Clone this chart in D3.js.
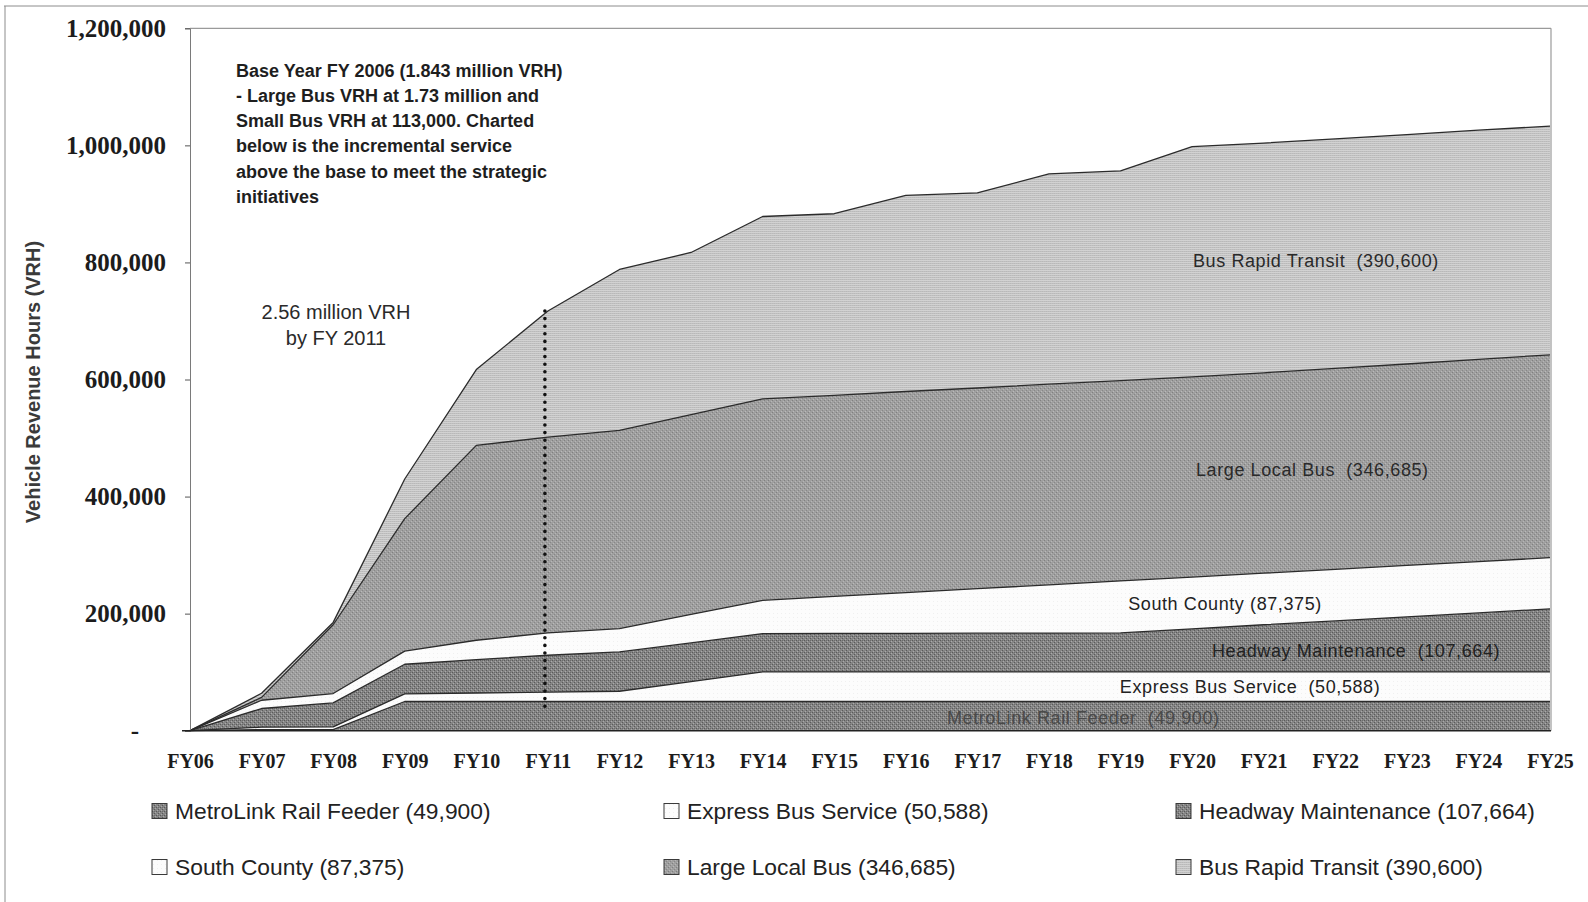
<!DOCTYPE html>
<html>
<head>
<meta charset="utf-8">
<script src="https://cdn.jsdelivr.net/npm/d3@7"></script>
<style>
  html, body { margin: 0; padding: 0; background: #fff; }
  svg { display: block; }
  text { white-space: pre; }
</style>
</head>
<body>
<svg id="chart" width="1588" height="902"></svg>
<script>
// Fiscal years on the category axis
const years = ["FY06","FY07","FY08","FY09","FY10","FY11","FY12","FY13","FY14","FY15",
               "FY16","FY17","FY18","FY19","FY20","FY21","FY22","FY23","FY24","FY25"];

// Incremental vehicle revenue hours by service type (stacked bottom to top)
const metroLinkRailFeeder = [0, 2000, 2000, 49900, 49900, 49900, 49900, 49900, 49900, 49900,
                             49900, 49900, 49900, 49900, 49900, 49900, 49900, 49900, 49900, 49900];
const expressBusService   = [0, 4000, 4500, 13000, 14500, 16000, 17500, 34000, 50588, 50588,
                             50588, 50588, 50588, 50588, 50588, 50588, 50588, 50588, 50588, 50588];
const headwayMaintenance  = [0, 31900, 41000, 50600, 57100, 63000, 67100, 66100, 65500, 65700,
                             65900, 66100, 66300, 66500, 73500, 80500, 87000, 94000, 100800, 107664];
const southCounty         = [0, 14100, 16000, 22500, 33000, 38100, 40000, 48600, 56800, 63200,
                             69600, 76000, 82400, 88900, 88500, 88100, 88200, 87800, 87600, 87375];
const largeLocalBus       = [0, 5000, 117500, 226300, 332900, 334600, 338500, 341400, 344200, 343600,
                             343500, 342900, 342800, 342100, 342000, 342400, 343300, 344200, 345600, 346685];
const busRapidTransit     = [0, 7000, 4000, 67700, 129600, 215400, 275000, 277000, 311500, 310200,
                             335000, 333500, 359200, 358500, 393300, 392500, 392000, 392000, 391500, 390600];

const seriesNames = ["MetroLink Rail Feeder", "Express Bus Service", "Headway Maintenance",
                     "South County", "Large Local Bus", "Bus Rapid Transit"];
const seriesValues = [metroLinkRailFeeder, expressBusService, headwayMaintenance,
                      southCounty, largeLocalBus, busRapidTransit];

// Value axis ticks
const yTicks = [0, 200000, 400000, 600000, 800000, 1000000, 1200000];

// Annotation text
const baseYearNote = ["Base Year FY 2006 (1.843 million VRH)",
                      "- Large Bus VRH at 1.73 million and",
                      "Small Bus VRH at 113,000. Charted",
                      "below is the incremental service",
                      "above the base to meet the strategic",
                      "initiatives"];
const milestoneNote = ["2.56 million VRH", "by FY 2011"];
const milestoneYear = "FY11";
const milestoneTotal = 717000;
const milestoneFloor = 30000;

// ---------------------------------------------------------------------------
const svg = d3.select("#chart");
const W = 1588, H = 902;
svg.append("rect").attr("width", W).attr("height", H).attr("fill", "#fff");

const defs = svg.append("defs");

// Halftone-like fills
function pattern(id, w, h, base, dots) {
  const p = defs.append("pattern").attr("id", id)
    .attr("width", w).attr("height", h).attr("patternUnits", "userSpaceOnUse");
  p.append("rect").attr("width", w).attr("height", h).attr("fill", base);
  dots.forEach(([x, y, c]) => p.append("rect").attr("x", x).attr("y", y)
    .attr("width", 1).attr("height", 1).attr("fill", c));
}
pattern("fillDark", 4, 4, "#858585", [[0,0,"#5a5a5a"],[2,2,"#5a5a5a"],[1,3,"#aaaaaa"],[3,1,"#aaaaaa"],[2,0,"#6c6c6c"]]);
pattern("fillWhite", 4, 4, "#fcfcfc", [[1,1,"#f0f0f0"]]);
pattern("fillMid", 4, 4, "#9f9f9f", [[0,0,"#808080"],[2,2,"#878787"],[1,3,"#bababa"],[3,1,"#b6b6b6"]]);
pattern("fillLight", 4, 2, "#d2d2d2", [[0,1,"#bababa"],[1,1,"#bfbfbf"],[2,1,"#b8b8b8"],[3,1,"#c1c1c1"]]);

const fills = ["url(#fillDark)", "url(#fillWhite)", "url(#fillDark)",
               "url(#fillWhite)", "url(#fillMid)", "url(#fillLight)"];

// Scales
const x = d3.scalePoint().domain(years).range([190, 1550]);
const y = d3.scaleLinear().domain([0, 1200000]).range([730.7, 28.3]);

// Stack the series
const rows = years.map((yr, i) => {
  const r = { year: yr };
  seriesNames.forEach((n, k) => { r[n] = seriesValues[k][i]; });
  return r;
});
const stacked = d3.stack().keys(seriesNames)(rows);

// Outer frame lines
svg.append("line").attr("x1", 4).attr("x2", W).attr("y1", 6).attr("y2", 6)
  .attr("stroke", "#8c8c8c").attr("stroke-width", 1);
svg.append("line").attr("x1", 5).attr("x2", 5).attr("y1", 6).attr("y2", H)
  .attr("stroke", "#8c8c8c").attr("stroke-width", 1);

// Plot-area border (top and right)
const plot = svg.append("g");
plot.append("line").attr("x1", x("FY06")).attr("x2", x("FY25") + 1)
  .attr("y1", y(1200000)).attr("y2", y(1200000))
  .attr("stroke", "#9a9a9a").attr("stroke-width", 1.2);
plot.append("line").attr("x1", x("FY25") + 1).attr("x2", x("FY25") + 1)
  .attr("y1", y(1200000)).attr("y2", y(0))
  .attr("stroke", "#9a9a9a").attr("stroke-width", 1.2);

// Areas
const area = d3.area()
  .x(d => x(d.data.year))
  .y0(d => y(d[0]))
  .y1(d => y(d[1]));
const topLine = d3.line()
  .x(d => x(d.data.year))
  .y(d => y(d[1]));

plot.selectAll("path.layer").data(stacked).join("path")
  .attr("class", "layer")
  .attr("d", area)
  .attr("fill", (d, i) => fills[i]);

plot.selectAll("path.edge").data(stacked).join("path")
  .attr("class", "edge")
  .attr("d", topLine)
  .attr("fill", "none")
  .attr("stroke", "#2b2b2b")
  .attr("stroke-width", 1.3)
  .attr("stroke-linejoin", "round");

// Series labels inside the bands: [category position, value level]
const fmt = d3.format(",");
const inLabels = [
  { k: 0, at: [12.48, 23000],  text: "MetroLink Rail Feeder  (" , fill: "#4a4a4a" },
  { k: 1, at: [14.81, 74800],  text: "Express Bus Service  (",    fill: "#222" },
  { k: 2, at: [16.29, 137400], text: "Headway Maintenance  (",    fill: "#222" },
  { k: 3, at: [14.46, 216800], text: "South County (",            fill: "#222" },
  { k: 4, at: [15.68, 446500], text: "Large Local Bus  (",        fill: "#2a2a2a" },
  { k: 5, at: [15.73, 803000], text: "Bus Rapid Transit  (",      fill: "#2a2a2a" }
];
const step = x.step();
plot.selectAll("text.inlabel").data(inLabels).join("text")
  .attr("class", "inlabel")
  .attr("x", d => x("FY06") + d.at[0] * step)
  .attr("y", d => y(d.at[1]))
  .attr("dy", "0.35em")
  .attr("text-anchor", "middle")
  .attr("font-family", "'Liberation Sans', Arial, sans-serif")
  .attr("font-size", 18)
  .attr("letter-spacing", 0.6)
  .attr("fill", d => d.fill)
  .text(d => d.text + fmt(seriesValues[d.k][years.length - 1]) + ")");

// Dotted marker at FY 2011
plot.append("line")
  .attr("x1", x(milestoneYear) - 3).attr("x2", x(milestoneYear) - 3)
  .attr("y1", y(milestoneTotal)).attr("y2", y(milestoneFloor))
  .attr("stroke", "#111")
  .attr("stroke-width", 3.6)
  .attr("stroke-linecap", "round")
  .attr("stroke-dasharray", "0 7.6");

// Y axis
const yAxis = d3.axisLeft(y).tickValues(yTicks).tickSize(5).tickPadding(19)
  .tickFormat(v => v === 0 ? "-" : fmt(v));
const gy = svg.append("g").attr("transform", `translate(${x("FY06")},0)`).call(yAxis);
gy.select(".domain").attr("stroke", "#7a7a7a").attr("stroke-width", 1);
gy.selectAll(".tick line").attr("stroke", "#555");
gy.selectAll(".tick text")
  .attr("font-family", "'Liberation Serif', 'Times New Roman', serif")
  .attr("font-weight", "bold")
  .attr("font-size", 25)
  .attr("fill", "#1c1c1c");
gy.selectAll(".tick").filter(d => d === 0).select("text").attr("dx", -27);

// X axis
const xAxis = d3.axisBottom(x).tickSize(0).tickSizeOuter(0).tickPadding(23);
const gx = svg.append("g").attr("transform", `translate(0,${y(0)})`).call(xAxis);
gx.select(".domain").attr("stroke", "#222").attr("stroke-width", 1.5)
  .attr("d", `M${x("FY06") - 8},0H${x("FY25") + 1}`);
gx.selectAll(".tick text")
  .attr("font-family", "'Liberation Serif', 'Times New Roman', serif")
  .attr("font-weight", "bold")
  .attr("font-size", 20)
  .attr("fill", "#1c1c1c");

// Y axis title
svg.append("text")
  .attr("transform", "translate(40,382) rotate(-90)")
  .attr("text-anchor", "middle")
  .attr("font-family", "'Liberation Sans', Arial, sans-serif")
  .attr("font-weight", "bold")
  .attr("font-size", 20)
  .attr("fill", "#3a3a3a")
  .text("Vehicle Revenue Hours (VRH)");

// Base-year note
svg.append("g").selectAll("text").data(baseYearNote).join("text")
  .attr("x", 236)
  .attr("y", (d, i) => 76.5 + i * 25.3)
  .attr("font-family", "'Liberation Sans', Arial, sans-serif")
  .attr("font-weight", "bold")
  .attr("font-size", 18)
  .attr("fill", "#1e1e1e")
  .text(d => d);

// FY 2011 milestone note
svg.append("g").selectAll("text").data(milestoneNote).join("text")
  .attr("x", 336)
  .attr("y", (d, i) => 319 + i * 26)
  .attr("text-anchor", "middle")
  .attr("font-family", "'Liberation Sans', Arial, sans-serif")
  .attr("font-size", 20)
  .attr("fill", "#2a2a2a")
  .text(d => d);

// Legend: three columns, two rows, in stacking order
const legendCols = [152, 664, 1176];
const legendRows = [811, 867];
const legend = svg.append("g").selectAll("g").data(seriesNames).join("g")
  .attr("transform", (d, i) => `translate(${legendCols[i % 3]},${legendRows[Math.floor(i / 3)]})`);
legend.append("rect")
  .attr("x", 0).attr("y", -7.5).attr("width", 15).attr("height", 15)
  .attr("fill", (d, i) => fills[i])
  .attr("stroke", "#3a3a3a").attr("stroke-width", 1);
legend.append("text")
  .attr("x", 23).attr("y", 0).attr("dy", "0.36em")
  .attr("font-family", "'Liberation Sans', Arial, sans-serif")
  .attr("font-size", 22.8)
  .attr("fill", "#222")
  .text((d, i) => `${d} (${fmt(seriesValues[i][years.length - 1])})`);
</script>
</body>
</html>
